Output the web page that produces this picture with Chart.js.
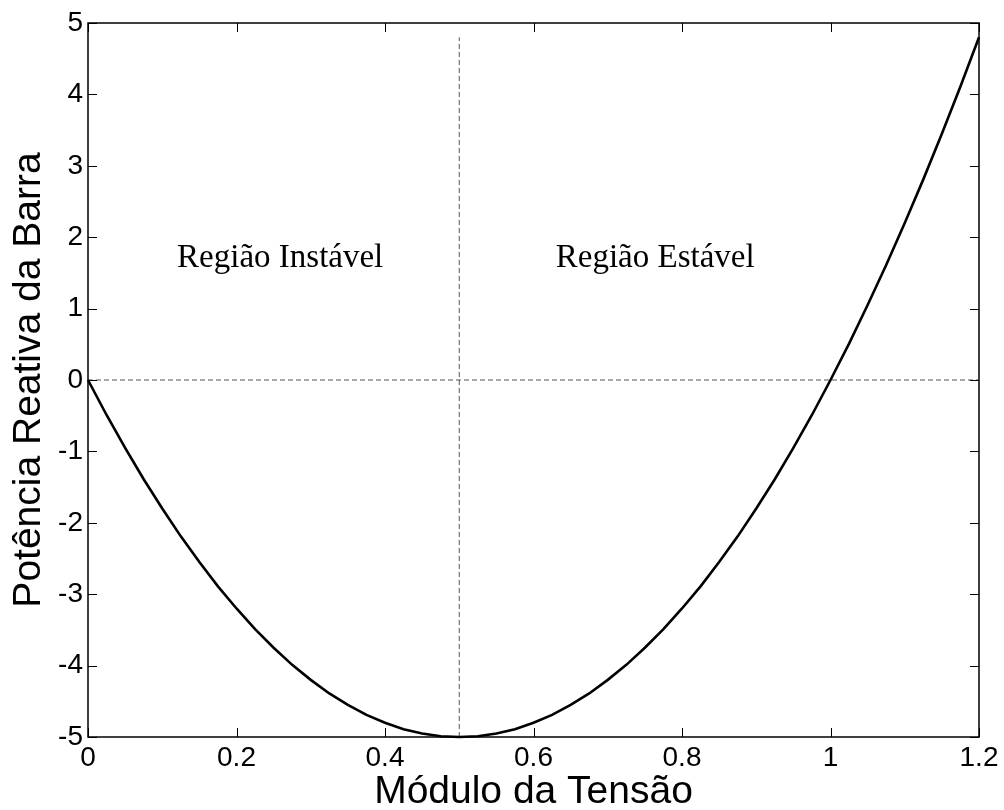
<!DOCTYPE html>
<html>
<head>
<meta charset="utf-8">
<script src="https://cdn.jsdelivr.net/npm/chart.js@4.4.4/dist/chart.umd.min.js"></script>
<style>
  html, body { margin: 0; padding: 0; background: #fff; }
  #wrap { width: 1004px; height: 810px; }
</style>
</head>
<body>
<div id="wrap"><canvas id="pv"></canvas></div>
<script>
// Q(V) curve of the bus
const tensao = [0, 0.025, 0.05, 0.075, 0.1, 0.125, 0.15, 0.175, 0.2, 0.225, 0.25, 0.275, 0.3, 0.325, 0.35, 0.375,
  0.4, 0.425, 0.45, 0.475, 0.5, 0.525, 0.55, 0.575, 0.6, 0.625, 0.65, 0.675, 0.7, 0.725, 0.75, 0.775,
  0.8, 0.825, 0.85, 0.875, 0.9, 0.925, 0.95, 0.975, 1, 1.025, 1.05, 1.075, 1.1, 1.125, 1.15, 1.175, 1.2];
const potencia = [0, -0.49, -0.95, -1.39, -1.8, -2.19, -2.55, -2.89, -3.2, -3.49, -3.75, -3.99, -4.2, -4.39, -4.55, -4.69,
  -4.8, -4.89, -4.95, -4.99, -5, -4.99, -4.95, -4.89, -4.8, -4.69, -4.55, -4.39, -4.2, -3.99, -3.75, -3.49,
  -3.2, -2.89, -2.55, -2.19, -1.8, -1.39, -0.95, -0.49, 0, 0.51, 1.05, 1.61, 2.2, 2.81, 3.45, 4.11, 4.8];

// dashed reference lines
const limiteX = [0.5, 0.5];
const limiteY = [-5, 4.8];
const zeroX = [0, 1.2];
const zeroY = [0, 0];

// region labels
const regioes = ['Região Instável', 'Região Estável'];
const regiaoX = [0.12, 0.63];
const regiaoY = [1.7, 1.7];

const xTicks = [0, 0.2, 0.4, 0.6, 0.8, 1, 1.2];
const yTicks = [-5, -4, -3, -2, -1, 0, 1, 2, 3, 4, 5];

const pts = (xs, ys) => xs.map((x, i) => ({ x: x, y: ys[i] }));

// matlab-style box with inward ticks, plus text labels
const boxPlugin = {
  id: 'box',
  afterDatasetsDraw(chart) {
    const { ctx, chartArea: a, scales: { x, y } } = chart;
    ctx.save();
    ctx.strokeStyle = '#000';
    ctx.lineWidth = 1.5;
    ctx.strokeRect(a.left, a.top, a.right - a.left, a.bottom - a.top);
    ctx.lineWidth = 1;
    ctx.beginPath();
    const tl = 9;
    xTicks.forEach(v => {
      const px = Math.round(x.getPixelForValue(v)) + 0.5;
      ctx.moveTo(px, a.bottom); ctx.lineTo(px, a.bottom - tl);
      ctx.moveTo(px, a.top); ctx.lineTo(px, a.top + tl);
    });
    yTicks.forEach(v => {
      const py = Math.round(y.getPixelForValue(v)) + 0.5;
      ctx.moveTo(a.left, py); ctx.lineTo(a.left + tl, py);
      ctx.moveTo(a.right, py); ctx.lineTo(a.right - tl, py);
    });
    ctx.stroke();

    ctx.fillStyle = '#000';
    ctx.font = '33px "Liberation Serif", serif';
    ctx.textAlign = 'left';
    ctx.textBaseline = 'middle';
    regioes.forEach((t, i) => {
      ctx.fillText(t, x.getPixelForValue(regiaoX[i]), y.getPixelForValue(regiaoY[i]));
    });
    ctx.restore();
  }
};

const tickFont = { family: '"Liberation Sans", Arial, sans-serif', size: 28 };
const titleFont = { family: '"Liberation Sans", Arial, sans-serif', size: 39, lineHeight: 0.9 };

new Chart(document.getElementById('pv'), {
  type: 'line',
  data: {
    datasets: [
      { data: pts(tensao, potencia), borderColor: '#000', borderWidth: 2.6, pointRadius: 0, tension: 0, clip: false, order: 0 },
      { data: pts(limiteX, limiteY), borderColor: '#555', borderWidth: 1, borderDash: [5, 3], pointRadius: 0, order: 1 },
      { data: pts(zeroX, zeroY), borderColor: '#555', borderWidth: 1, borderDash: [5, 3], pointRadius: 0, order: 1 }
    ]
  },
  options: {
    responsive: true,
    maintainAspectRatio: false,
    animation: false,
    layout: { padding: { top: 23, right: 25, left: 0, bottom: 0 } },
    plugins: { legend: { display: false }, tooltip: { enabled: false } },
    scales: {
      x: {
        type: 'linear', min: 0, max: 1.2,
        afterBuildTicks: s => { s.ticks = xTicks.map(v => ({ value: v })); },
        afterFit: s => { s.height = 73; },
        grid: { display: false, drawTicks: false },
        border: { display: false },
        ticks: { color: '#000', font: tickFont, padding: 4, maxRotation: 0, callback: v => String(v) },
        title: { display: true, text: 'Módulo da Tensão', color: '#000', font: titleFont, padding: 0 }
      },
      y: {
        type: 'linear', min: -5, max: 5,
        afterBuildTicks: s => { s.ticks = yTicks.map(v => ({ value: v })); },
        afterFit: s => { s.width = 88; },
        grid: { display: false, drawTicks: false },
        border: { display: false },
        ticks: { color: '#000', font: tickFont, padding: 5, callback: v => String(v) },
        title: { display: true, text: 'Potência Reativa da Barra', color: '#000', font: titleFont, padding: { top: 12 } }
      }
    }
  },
  plugins: [boxPlugin]
});
</script>
</body>
</html>
